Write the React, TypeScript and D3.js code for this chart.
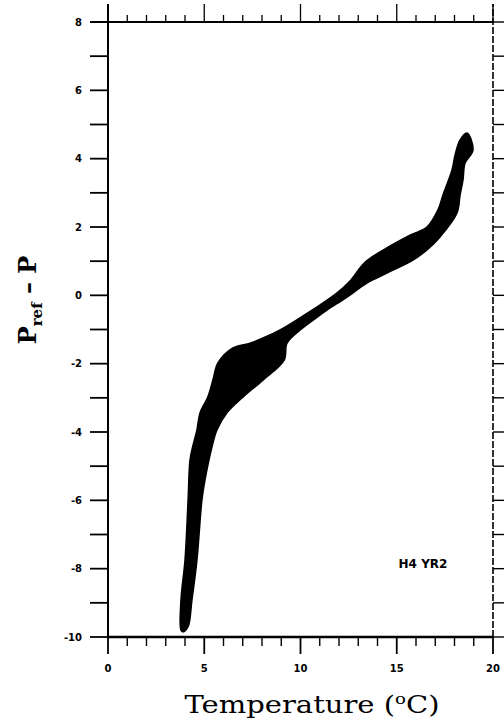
import React from 'react';
import * as d3 from 'd3';

// Axis ticks
const xMajorTicks = [0, 5, 10, 15, 20];
const xMinorTicks = d3.range(0, 21);
const yMajorTicks = [8, 6, 4, 2, 0, -2, -4, -6, -8, -10];
const yMinorTicks = d3.range(-10, 9);

// Outline of the scatter cloud (Temperature °C, P_ref - P)
// upper/left edge, from the cold tip up to the warm tip
const upperEdgeT = [3.79, 3.79, 4.0, 4.16, 4.26, 4.42, 4.62, 4.78, 5.19, 5.45, 5.71, 6.49, 7.38, 8.05, 8.94, 9.97, 10.86, 11.9, 12.57, 13.35, 14.55, 15.69, 16.57, 17.14, 17.4, 17.87, 18.03, 18.29, 18.65];
const upperEdgeP = [-9.8, -8.92, -7.75, -5.99, -4.82, -4.38, -3.94, -3.44, -2.97, -2.48, -1.98, -1.54, -1.4, -1.25, -1.01, -0.66, -0.34, 0.07, 0.42, 0.97, 1.41, 1.76, 2.0, 2.5, 2.94, 3.67, 4.11, 4.55, 4.75];
// lower/right edge, from the warm tip back down to the cold tip
const lowerEdgeT = [18.96, 18.55, 18.44, 18.29, 18.13, 17.25, 16.57, 15.84, 14.49, 13.45, 12.42, 11.38, 11.01, 9.97, 9.3, 9.15, 8.05, 7.01, 6.18, 5.66, 5.4, 5.04, 4.88, 4.62, 4.36, 4.16, 3.9];
const lowerEdgeP = [4.25, 3.87, 3.37, 2.94, 2.41, 1.71, 1.33, 1.03, 0.65, 0.36, -0.05, -0.43, -0.58, -1.02, -1.4, -1.9, -2.48, -2.98, -3.44, -3.94, -4.44, -5.4, -5.99, -7.75, -8.92, -9.7, -9.85];

const panelLabel = 'H4 YR2';
const xTitle = 'Temperature';

export default function App() {
  const W = 504;
  const H = 721;
  const x = d3.scaleLinear().domain([0, 20]).range([108, 493]);
  const y = d3.scaleLinear().domain([-10, 8]).range([637, 22]);
  const [x0, x1] = x.range();
  const [y0, y1] = y.range();

  const outline: [number, number][] = [
    ...upperEdgeT.map((t, i) => [t, upperEdgeP[i]] as [number, number]),
    ...lowerEdgeT.map((t, i) => [t, lowerEdgeP[i]] as [number, number]),
  ];
  const area = d3
    .line<[number, number]>()
    .x((d) => x(d[0]))
    .y((d) => y(d[1]))
    .curve(d3.curveCatmullRomClosed.alpha(0.5))(outline);

  const tickFont = { fontFamily: 'DejaVu Sans', fontWeight: 700, fontSize: 10 } as const;

  return (
    <svg
      width={W}
      height={H}
      style={{ position: 'absolute', left: 0, top: 0, background: '#fff' }}
    >
      <rect x={0} y={0} width={W} height={H} fill="#fff" />
      {/* data cloud */}
      <path d={area || ''} fill="#000" stroke="#000" strokeWidth={1.5} strokeLinejoin="round" />

      {/* frame */}
      <line x1={x0} x2={x1} y1={y0} y2={y0} stroke="#000" strokeWidth={2.4} />
      <line x1={x0 - 18} x2={x1} y1={y1} y2={y1} stroke="#000" strokeWidth={1.8} />
      <line x1={x0} x2={x0} y1={y0} y2={y1 - 18} stroke="#000" strokeWidth={2} />
      <line x1={x1} x2={x1} y1={y0} y2={y1 - 18} stroke="#000" strokeWidth={1.6} strokeDasharray="7 2" />

      {/* bottom ticks */}
      {xMinorTicks.map((v) => {
        const major = xMajorTicks.includes(v);
        return (
          <line key={'bx' + v} x1={x(v)} x2={x(v)} y1={y0} y2={y0 + (major ? 17 : 9)} stroke="#000" strokeWidth={major ? 1.8 : 1.4} />
        );
      })}
      {/* top ticks */}
      {xMinorTicks.map((v) => {
        const major = xMajorTicks.includes(v);
        return (
          <line key={'tx' + v} x1={x(v)} x2={x(v)} y1={y1} y2={y1 - (major ? 18 : 7)} stroke="#000" strokeWidth={1.3} />
        );
      })}
      {/* left ticks */}
      {yMinorTicks.map((v) => (
        <line key={'ly' + v} x1={x0 - 18} x2={x0} y1={y(v)} y2={y(v)} stroke="#000" strokeWidth={1.8} />
      ))}
      {/* right ticks */}
      {yMinorTicks.map((v) => (
        <line key={'ry' + v} x1={x1} x2={x1 + 12} y1={y(v)} y2={y(v)} stroke="#000" strokeWidth={1.4} />
      ))}

      {/* tick labels */}
      {xMajorTicks.map((v) => (
        <text key={'xl' + v} x={x(v)} y={y0 + 35} textAnchor="middle" {...tickFont}>
          {String(v)}
        </text>
      ))}
      {yMajorTicks.map((v) => (
        <text key={'yl' + v} x={x0 - 26} y={y(v) + 3.5} textAnchor="end" {...tickFont}>
          {String(v)}
        </text>
      ))}

      {/* panel label */}
      <text x={423} y={568} textAnchor="middle" fontFamily="DejaVu Sans" fontWeight={700} fontSize={12}>
        {panelLabel}
      </text>

      {/* x title */}
      <text
        x={312}
        y={713}
        textAnchor="middle"
        fontFamily="DejaVu Serif"
        fontSize={24}
        textLength={255}
        lengthAdjust="spacingAndGlyphs"
      >
        {xTitle + ' ('}
        <tspan fontSize={15} dy={-9}>o</tspan>
        <tspan dy={9}>C)</tspan>
      </text>

      {/* y title */}
      <g transform={`translate(36, 300) rotate(-90)`}>
        <text textAnchor="middle" fontFamily="DejaVu Serif" fontWeight={700} fontSize={24}>
          P
          <tspan fontSize={15} dy={6}>ref</tspan>
          <tspan dy={-6}>{' \u2013 P'}</tspan>
        </text>
      </g>
    </svg>
  );
}
